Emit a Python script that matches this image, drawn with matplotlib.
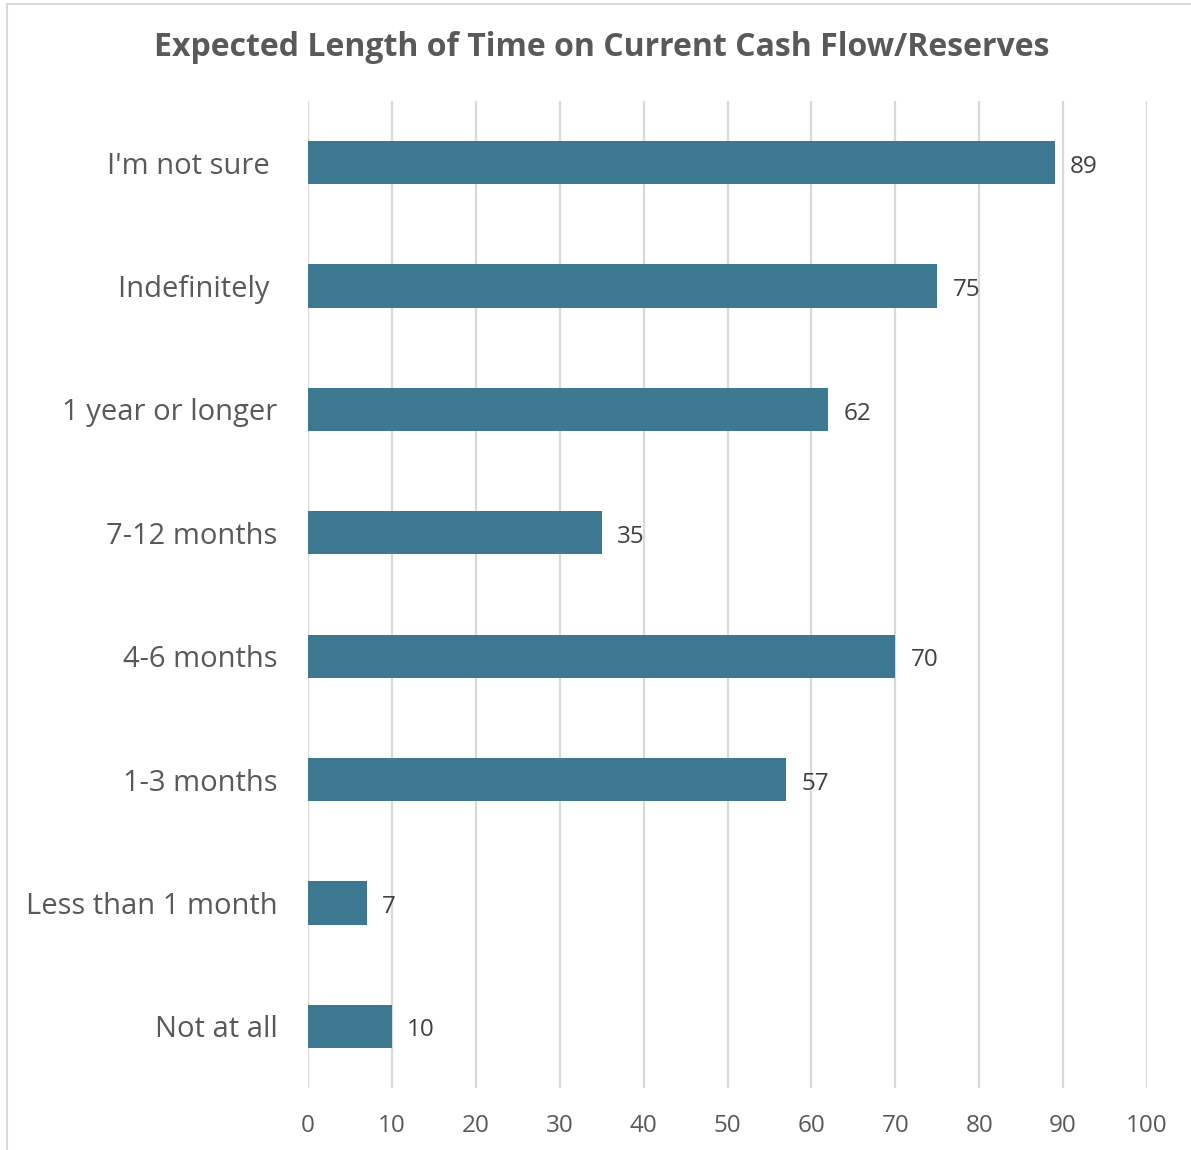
import matplotlib
matplotlib.use("Agg")
import matplotlib.pyplot as plt
from matplotlib.patches import Rectangle

categories = ["I'm not sure ", "Indefinitely ", "1 year or longer", "7-12 months",
              "4-6 months", "1-3 months", "Less than 1 month", "Not at all"]
values = [89, 75, 62, 35, 70, 57, 7, 10]
xticks = [0, 10, 20, 30, 40, 50, 60, 70, 80, 90, 100]
title = "Expected Length of Time on Current Cash Flow/Reserves"

plt.rcParams['font.family'] = ['Open Sans', 'DejaVu Sans']
txt = '#595959'
bar_color = '#3D7891'
grid_color = '#D9D9D9'

fig = plt.figure(figsize=(11.91, 11.5), dpi=100)
ax = fig.add_axes([308/1191, 1-1088/1150, (1147-308)/1191, (1088-101)/1150])

n = len(categories)
ypos = list(range(n))[::-1]
ax.barh(ypos, values, height=0.35, color=bar_color, zorder=3)
ax.set_xlim(0, 100)
ax.set_ylim(-0.5, n-0.5)
ax.set_xticks(xticks)
ax.set_xticklabels([str(t) for t in xticks])
ax.set_yticks(ypos)
ax.set_yticklabels(categories)
ax.tick_params(axis='x', length=0, pad=19, labelsize=17.5, labelcolor=txt)
ax.tick_params(axis='y', length=0, pad=22, labelsize=21, labelcolor=txt)
for s in ax.spines.values():
    s.set_visible(False)
ax.grid(axis='x', color=grid_color, linewidth=1.6, zorder=0)
ax.set_axisbelow(True)

for y, v in zip(ypos, values):
    ax.annotate(str(v), (v, y), xytext=(11, -3), textcoords='offset points',
                ha='left', va='center', fontsize=17.5, color='#404040')

fig.text(602/1191, 1-48/1150, title, ha='center', va='center',
         fontsize=23, fontweight='bold', color=txt)

fig.patches.append(Rectangle((7/1191, -0.05), 1.1, 1-4/1150+0.05,
                             transform=fig.transFigure, fill=False,
                             edgecolor=grid_color, linewidth=1.5))

fig.savefig("out.png", dpi=100)
